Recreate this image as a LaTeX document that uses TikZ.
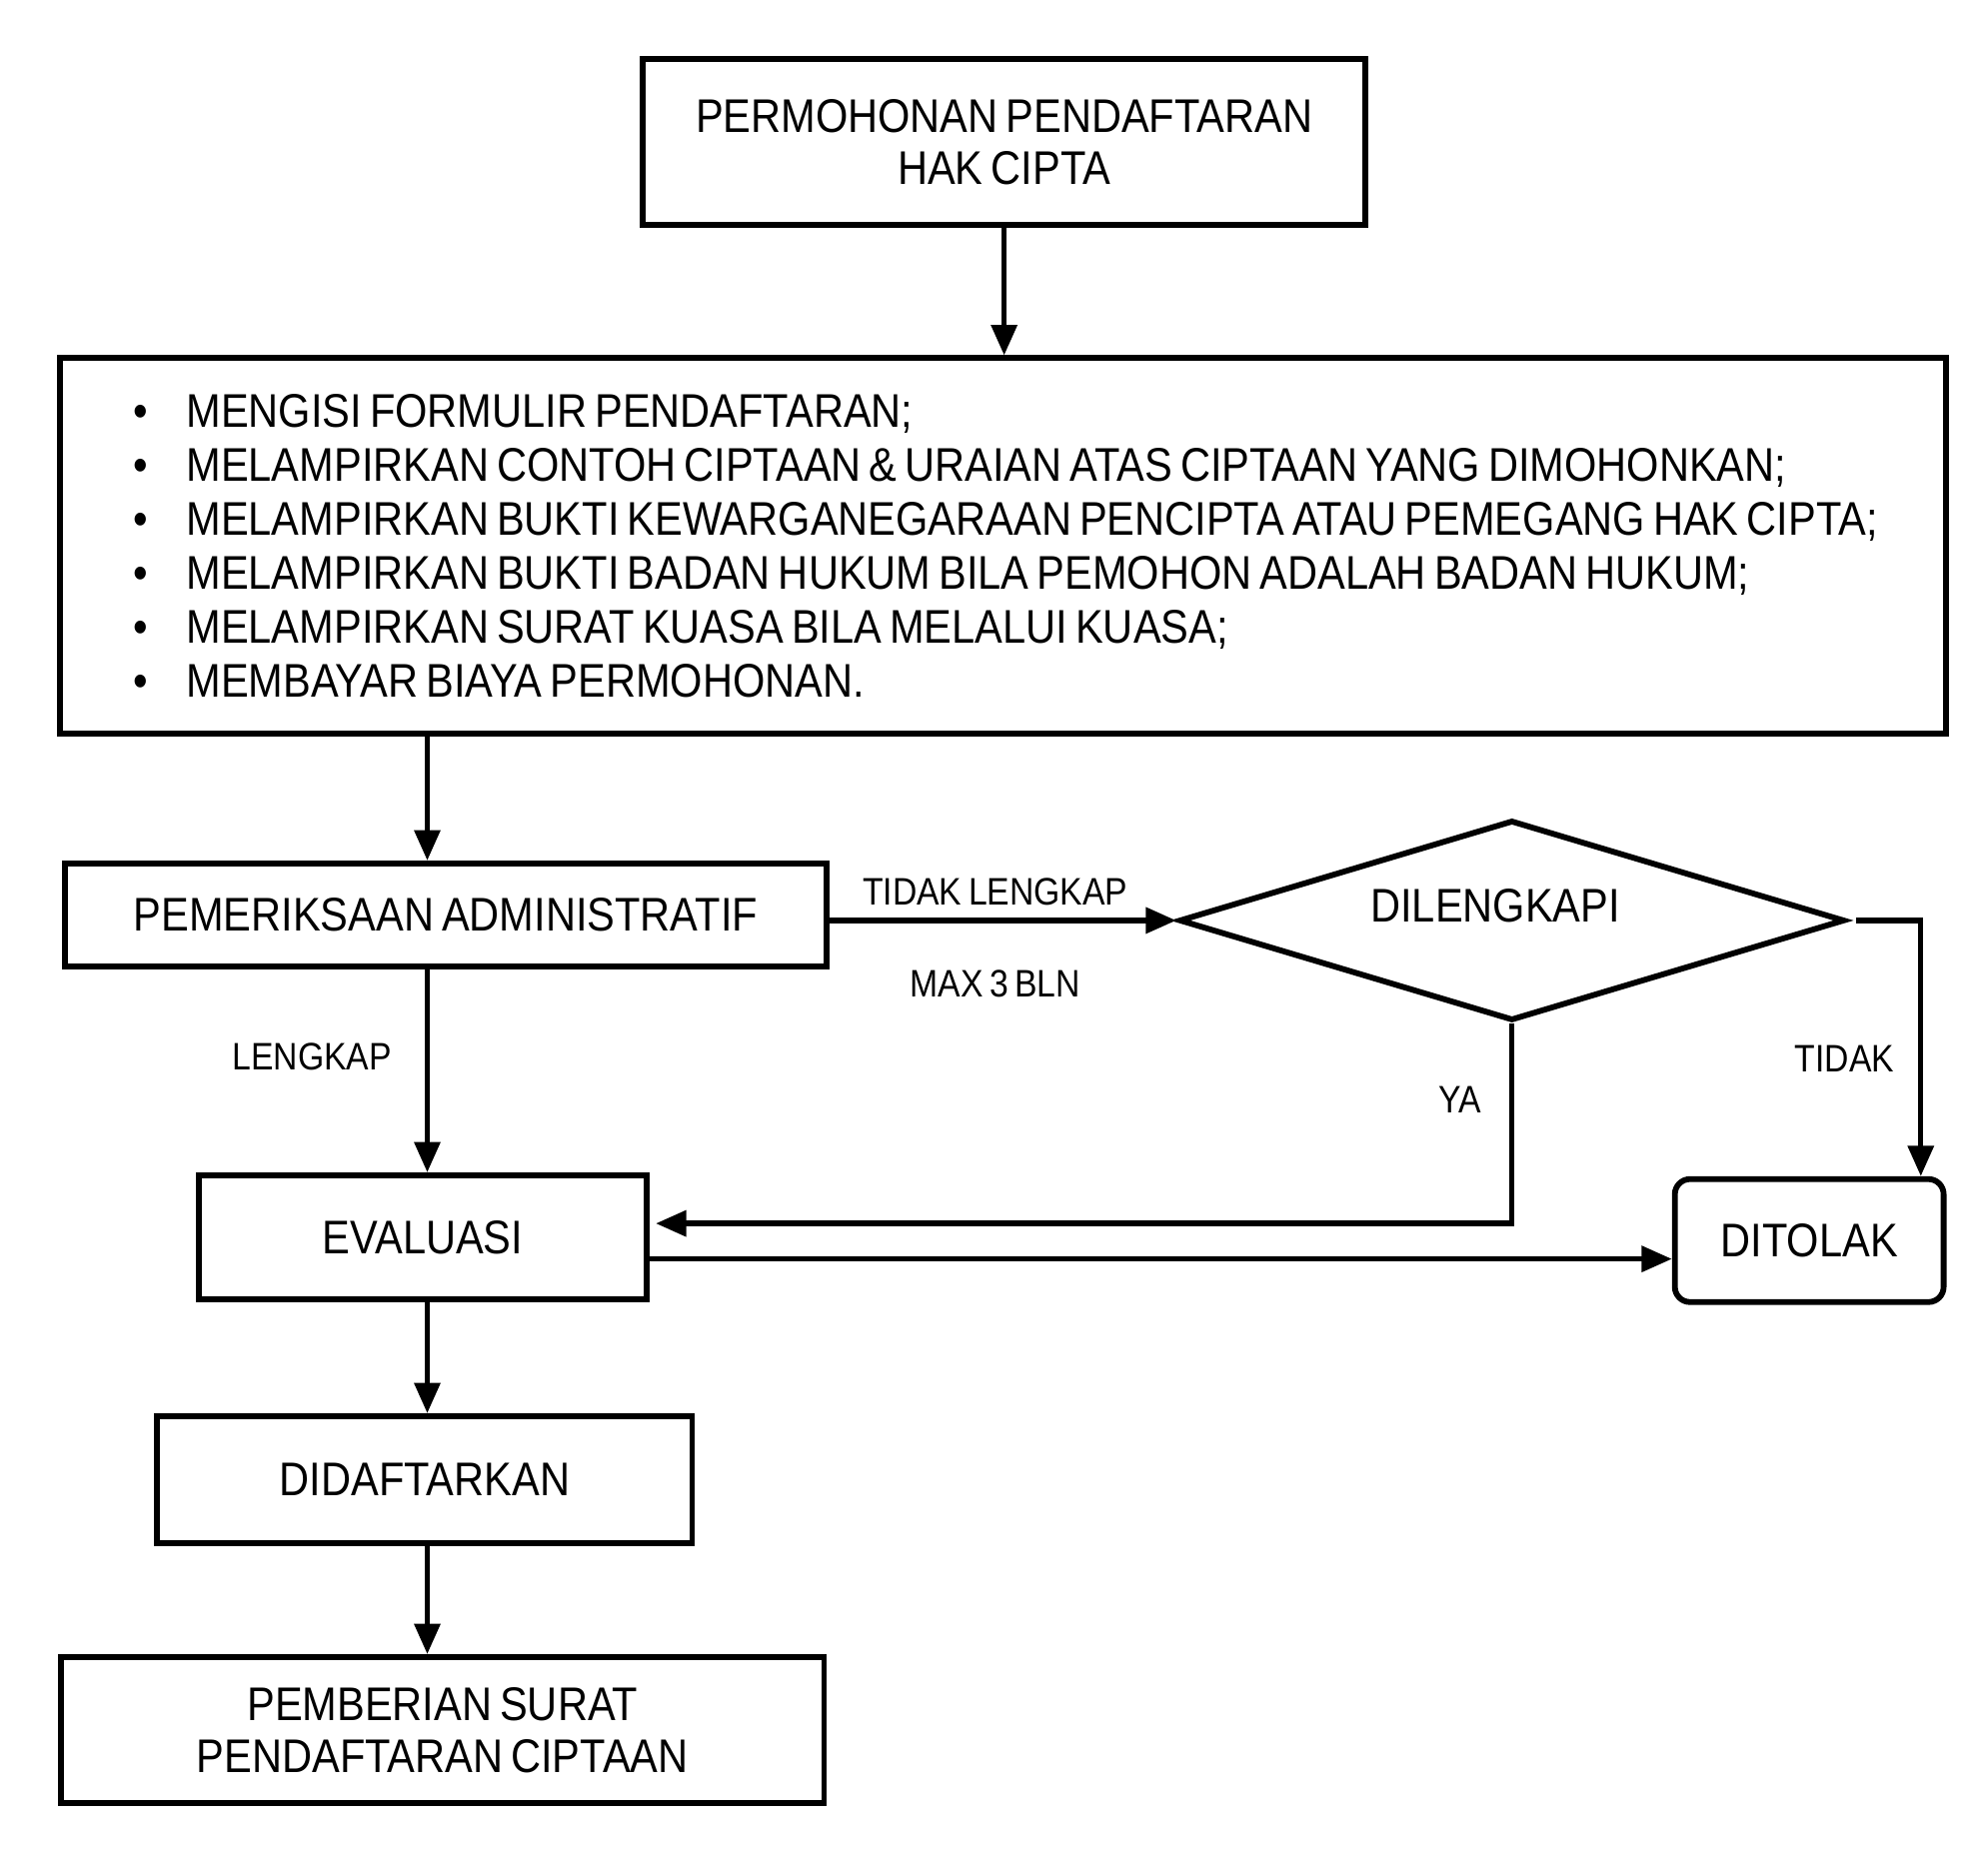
\documentclass[tikz,border=0pt]{standalone}
\usepackage{fontspec}
\setmainfont{Liberation Sans}[FakeStretch=0.88]
\usepackage{tikz}
\usetikzlibrary{arrows.meta,shapes.geometric}
\newcommand{\rapat}{\spaceskip=0.17em\relax}
\newcommand{\butir}[1]{\mbox{\rapat\makebox[4.2mm][l]{\textbullet}#1}}

\begin{document}
\begin{tikzpicture}[x=0.1mm,y=-0.1mm,
  kotak/.style = {draw,line width=1.3pt,inner sep=0pt,align=center,font=\fontsize{10.6pt}{11.7pt}\selectfont\rapat},
  ket/.style = {font=\fontsize{8.6pt}{10pt}\selectfont\rapat,inner sep=0pt},
  panah/.style = {line width=1.2pt,-{Triangle[length=2.4mm,width=2mm]}}]
\useasboundingbox (0,0) rectangle (1568,1467.1);
%kotak-kotak alur
\node (mohon) at (792,112) [kotak,minimum width=57mm,minimum height=13.1mm] {PERMOHONAN PENDAFTARAN\\HAK CIPTA};
\node (syarat) at (791,430.5) [kotak,minimum width=148.8mm,minimum height=29.6mm,text width=137.2mm,align=left,font=\fontsize{10.6pt}{12.1pt}\selectfont\rapat]
  {\butir{MENGISI FORMULIR PENDAFTARAN;}\\
   \butir{MELAMPIRKAN CONTOH CIPTAAN \& URAIAN ATAS CIPTAAN YANG DIMOHONKAN;}\\
   \butir{MELAMPIRKAN BUKTI KEWARGANEGARAAN PENCIPTA ATAU PEMEGANG HAK CIPTA;}\\
   \butir{MELAMPIRKAN BUKTI BADAN HUKUM BILA PEMOHON ADALAH BADAN HUKUM;}\\
   \butir{MELAMPIRKAN SURAT KUASA BILA MELALUI KUASA;}\\
   \butir{MEMBAYAR BIAYA PERMOHONAN.}};
\node (periksa) at (351.5,721.5) [kotak,minimum width=60.1mm,minimum height=8.1mm] {PEMERIKSAAN ADMINISTRATIF};
\node (lengkapi) at (1192.5,726) [kotak,diamond,aspect=3.3,minimum width=52.5mm,minimum height=15.8mm] {\raisebox{2.4mm}{DILENGKAPI}\hspace*{2.6mm}};
\node (evaluasi) at (333.5,976) [kotak,minimum width=35.3mm,minimum height=9.8mm] {EVALUASI};
\node (tolak) at (1427,978.5) [kotak,rounded corners=1.2mm,minimum width=21.2mm,minimum height=9.7mm] {DITOLAK};
\node (daftar) at (335,1167) [kotak,minimum width=42.2mm,minimum height=10mm] {DIDAFTARKAN};
\node (beri) at (349,1364.5) [kotak,minimum width=60.2mm,minimum height=11.5mm] {PEMBERIAN SURAT\\PENDAFTARAN CIPTAAN};
\coordinate (tulang) at (337,0);

\draw[panah] (mohon.south) -- (mohon.south |- syarat.north);
\draw[panah] (syarat.south -| tulang) -- (periksa.north -| tulang);
\draw[panah] (periksa.south -| tulang) -- node[ket,pos=0.43,left=2.6mm] {LENGKAP} (evaluasi.north -| tulang);
\draw[panah] (periksa.east |- lengkapi.west) -- node[ket,midway,above=1mm,xshift=-0.6mm] {TIDAK LENGKAP} node[ket,midway,below=3.7mm,xshift=-0.6mm] {MAX 3 BLN} (lengkapi.west);
\draw[panah] ([xshift=0.7mm]lengkapi.east) -| node[ket,pos=0.77,left=1.9mm] {TIDAK} ([xshift=8.8mm]tolak.north);
\draw[panah,shorten >=0.5mm] (lengkapi.south) |- node[ket,pos=0.19,left=2.2mm] {YA} ([yshift=1.1mm]evaluasi.east);
\draw[panah] ([yshift=-1.7mm]evaluasi.east) -- ([yshift=-1.7mm]evaluasi.east -| tolak.west);
\draw[panah] (evaluasi.south -| tulang) -- (daftar.north -| tulang);
\draw[panah] (daftar.south -| tulang) -- (beri.north -| tulang);

\end{tikzpicture}
\end{document}
